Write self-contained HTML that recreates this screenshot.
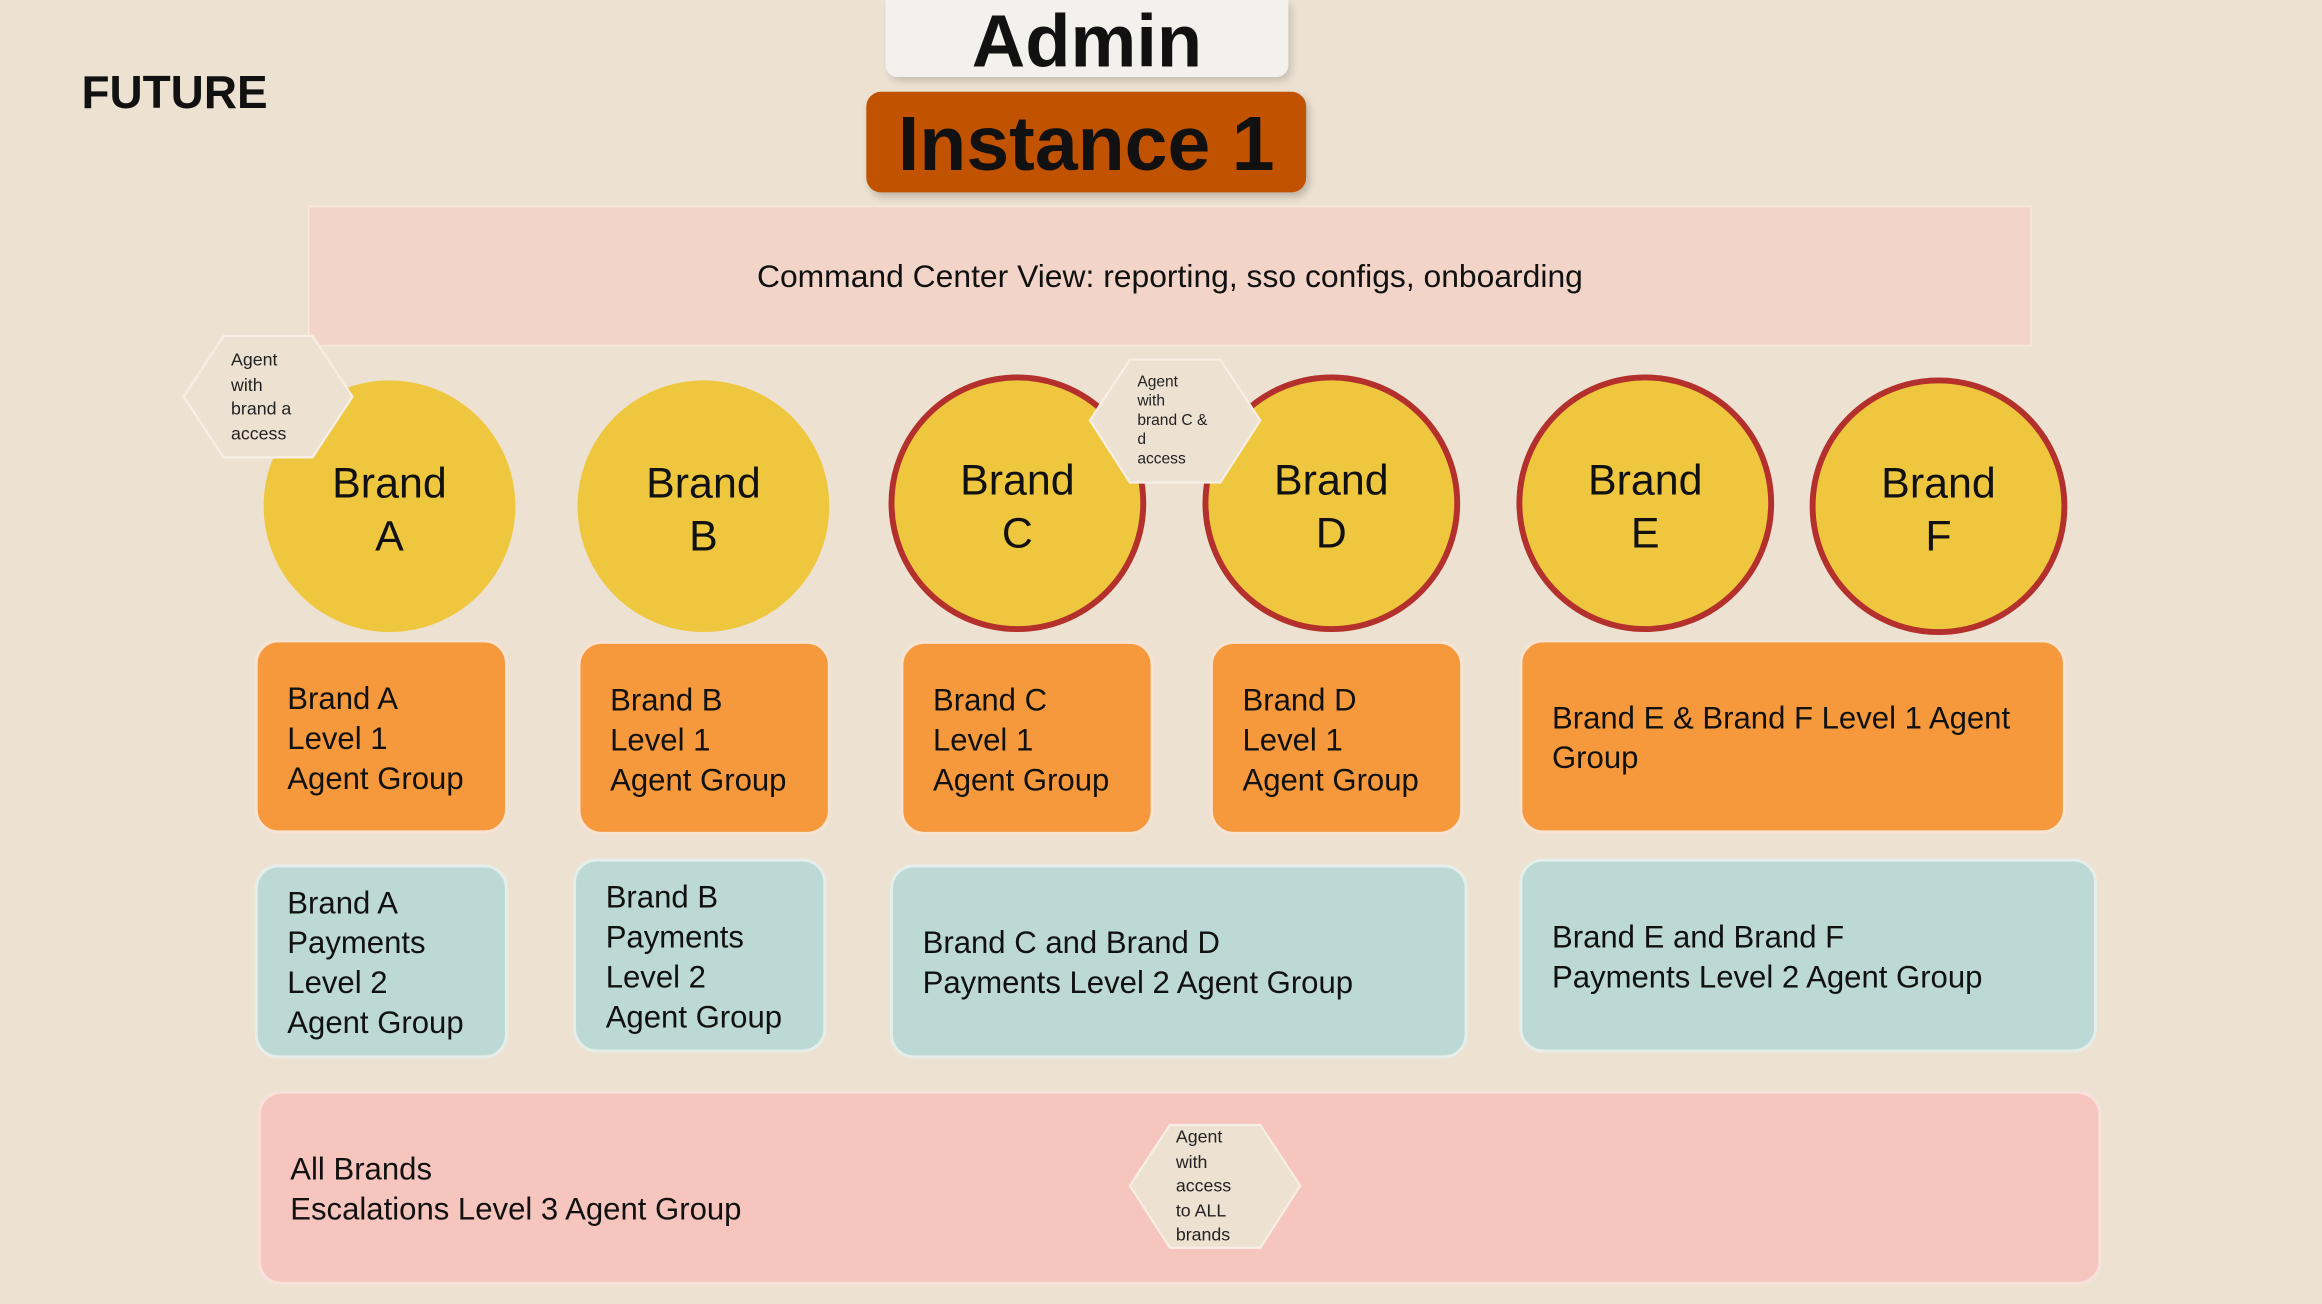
<!DOCTYPE html>
<html><head><meta charset="utf-8"><style>
html,body{margin:0;padding:0;background:#ede2d2;}
body{width:2322px;height:1304px;overflow:hidden;}
#s{position:absolute;left:0;top:0;width:1568px;height:881px;transform:scale(1.4809,1.4802);transform-origin:0 0;font-family:"Liberation Sans",sans-serif;color:#111;}
.a{position:absolute;box-sizing:border-box;}
.circ{border-radius:50%;background:#efc73e;text-align:center;font-size:29px;line-height:36px;display:flex;align-items:center;justify-content:center;padding-top:6px;}
.red{border:4px solid #b3302d;}
.or{background:#f5993c;border:2px solid #f7e3d2;border-radius:16px;font-size:21px;line-height:27px;padding-left:20px;padding-top:3px;display:flex;align-items:center;}
.te{background:#bcd9d5;border:2px solid #e6eeea;border-radius:16px;font-size:21px;line-height:27px;padding-left:20px;padding-top:3px;display:flex;align-items:center;}
.hx{position:absolute;}
.hx svg{position:absolute;left:0;top:0;}
.hx div{position:absolute;font-size:12px;line-height:16.5px;color:#222;}
</style></head><body><div id="s">
<div class="a" style="left:55px;top:45px;font-size:31px;font-weight:bold;">FUTURE</div>
<div class="a" style="left:598px;top:0;width:272px;height:52px;background:#f3f1ee;border-radius:0 0 8px 8px;box-shadow:2px 3px 5px rgba(0,0,0,.15);text-align:center;font-size:50px;line-height:56px;font-weight:bold;">Admin</div>
<div class="a" style="left:585px;top:62px;width:297px;height:68px;background:#c05200;border-radius:10px;box-shadow:2px 3px 5px rgba(0,0,0,.2);text-align:center;font-size:52px;line-height:72px;font-weight:bold;">Instance 1</div>
<div class="a" style="left:208px;top:139px;width:1164px;height:95px;background:#f2d5c8;border:1.5px solid #f6e9df;text-align:center;font-size:21.5px;line-height:95px;">Command Center View: reporting, sso configs, onboarding</div>

<div class="a circ" style="left:178px;top:257px;width:170px;height:170px;">Brand<br>A</div>
<div class="a circ" style="left:390px;top:257px;width:170px;height:170px;">Brand<br>B</div>
<div class="a circ red" style="left:600px;top:253px;width:174px;height:174px;">Brand<br>C</div>
<div class="a circ red" style="left:812px;top:253px;width:174px;height:174px;">Brand<br>D</div>
<div class="a circ red" style="left:1024px;top:253px;width:174px;height:174px;">Brand<br>E</div>
<div class="a circ red" style="left:1222px;top:255px;width:174px;height:174px;">Brand<br>F</div>

<div class="hx" style="left:123px;top:226px;width:116px;height:84px;"><svg width="116" height="84"><polygon points="28,1 88,1 115,42 88,83 28,83 1,42" fill="#ede1d1" stroke="#f7efe5" stroke-width="1.5"/></svg><div style="left:33px;top:9px;">Agent<br>with<br>brand a<br>access</div></div>
<div class="hx" style="left:735px;top:242px;width:117px;height:85px;"><svg width="117" height="85"><polygon points="28,1 89,1 116,42 89,84 28,84 1,42" fill="#ede1d1" stroke="#f7efe5" stroke-width="1.5"/></svg><div style="left:33px;top:10px;font-size:10.5px;line-height:13px;">Agent<br>with<br>brand C &amp;<br>d<br>access</div></div>

<div class="a or" style="left:172px;top:432px;width:171px;height:131px;">Brand A<br>Level 1<br>Agent Group</div>
<div class="a or" style="left:390px;top:433px;width:171px;height:131px;">Brand B<br>Level 1<br>Agent Group</div>
<div class="a or" style="left:608px;top:433px;width:171px;height:131px;">Brand C<br>Level 1<br>Agent Group</div>
<div class="a or" style="left:817px;top:433px;width:171px;height:131px;">Brand D<br>Level 1<br>Agent Group</div>
<div class="a or" style="left:1026px;top:432px;width:369px;height:131px;">Brand E &amp; Brand F Level 1 Agent<br>Group</div>

<div class="a te" style="left:172px;top:584px;width:171px;height:131px;">Brand A<br>Payments<br>Level 2<br>Agent Group</div>
<div class="a te" style="left:387px;top:580px;width:171px;height:131px;">Brand B<br>Payments<br>Level 2<br>Agent Group</div>
<div class="a te" style="left:601px;top:584px;width:390px;height:131px;">Brand C and Brand D<br>Payments Level 2 Agent Group</div>
<div class="a te" style="left:1026px;top:580px;width:390px;height:131px;">Brand E and Brand F<br>Payments Level 2 Agent Group</div>

<div class="a te" style="left:174px;top:737px;width:1245px;height:131px;background:#f6c6be;border-color:#f8e1dc;">All Brands<br>Escalations Level 3 Agent Group</div>
<div class="hx" style="left:762px;top:759px;width:117px;height:85px;"><svg width="117" height="85"><polygon points="28,1 89,1 116,42 89,84 28,84 1,42" fill="#ede1d1" stroke="#f7efe5" stroke-width="1.5"/></svg><div style="left:32px;top:1px;font-size:12px;line-height:16.6px;">Agent<br>with<br>access<br>to ALL<br>brands</div></div>
</div></body></html>
